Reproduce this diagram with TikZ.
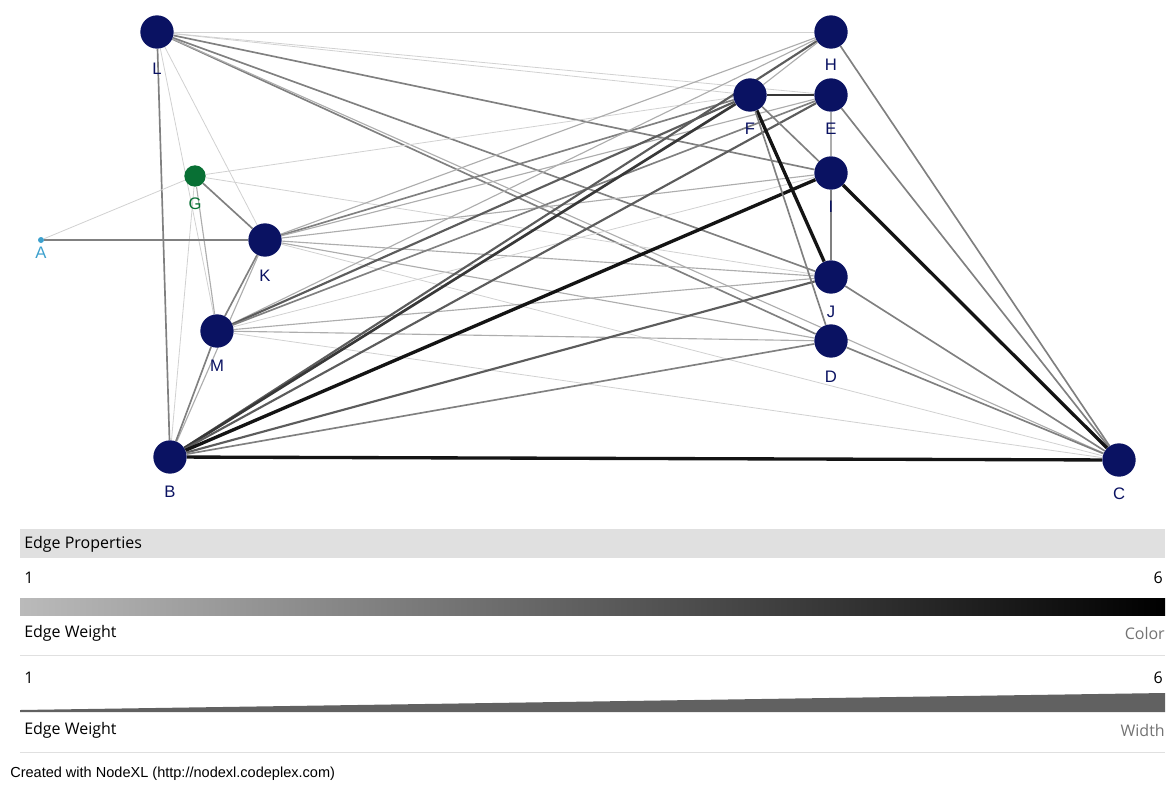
\documentclass[tikz,border=0pt]{standalone}
\usepackage{fontspec}
\setmainfont{Liberation Sans}
\newfontfamily\uifont{Open Sans}
\pgfdeclarelayer{background}
\pgfsetlayers{background,main}
\definecolor{navy}{RGB}{10,18,98}
\definecolor{gnode}{RGB}{8,112,52}
\definecolor{anode}{RGB}{60,160,205}
\tikzset{
  vtx/.style={circle,fill=navy,inner sep=0pt,minimum size=25pt},
  vlab/.style={text=navy,font=\fontsize{12.5}{14}\selectfont,inner sep=0pt},
  w1/.style={draw=black!18,line width=0.6pt},
  w2/.style={draw=black!32,line width=0.85pt},
  w3/.style={draw=black!50,line width=1.25pt},
  w4/.style={draw=black!64,line width=1.6pt},
  w5/.style={draw=black!78,line width=2pt},
  w6/.style={draw=black!92,line width=2.5pt},
  leg/.style={font=\uifont\fontsize{12}{14}\selectfont,inner sep=0pt},
}
\begin{document}
\begin{tikzpicture}[x=0.75pt,y=-0.75pt]
\useasboundingbox (0,0) rectangle (1173,785);
% nodes
\node[vtx] (L) at (157,32) {};
\node[vtx] (H) at (831,32) {};
\node[vtx] (F) at (750,95) {};
\node[vtx] (E) at (831,95) {};
\node[vtx] (I) at (831,173) {};
\node[circle,fill=gnode,inner sep=0pt,minimum size=16pt] (G) at (195,176) {};
\node[circle,fill=anode,inner sep=0pt,minimum size=4.5pt] (A) at (41,240) {};
\node[vtx] (K) at (265,240) {};
\node[vtx] (J) at (831,277) {};
\node[vtx] (M) at (217,331) {};
\node[vtx] (D) at (831,341) {};
\node[vtx] (B) at (170,457) {};
\node[vtx] (C) at (1119,460) {};
% labels
\node[vlab] (lL) at (157,69) {L};
\node[vlab] (lH) at (831,65) {H};
\node[vlab] (lF) at (750,129) {F};
\node[vlab] (lE) at (831,129) {E};
\node[vlab] (lI) at (831,207) {I};
\node[vlab,text=gnode] (lG) at (195,204) {G};
\node[vlab,text=anode] (lA) at (41,253) {A};
\node[vlab] (lK) at (265,276) {K};
\node[vlab] (lJ) at (831,312) {J};
\node[vlab] (lM) at (217,366) {M};
\node[vlab] (lD) at (831,377) {D};
\node[vlab] (lB) at (170,492) {B};
\node[vlab] (lC) at (1119,494) {C};
% edges
\begin{pgfonlayer}{background}
\draw[w1] (L) -- (H);
\draw[w1] (L) -- (E);
\draw[w1] (L) -- (F);
\draw[w3] (L) -- (I);
\draw[w3] (L) -- (J);
\draw[w3] (L) -- (D);
\draw[w2] (L) -- (C);
\draw[w3] (L) -- (B);
\draw[w1] (L) -- (M);
\draw[w1] (L) -- (K);
\draw[w1] (G) -- (A);
\draw[w3] (G) -- (K);
\draw[w1] (G) -- (F);
\draw[w1] (G) -- (J);
\draw[w2] (G) -- (M);
\draw[w1] (G) -- (B);
\draw[w3] (A) -- (K);
\draw[w2] (K) -- (H);
\draw[w3] (K) -- (F);
\draw[w2] (K) -- (E);
\draw[w2] (K) -- (I);
\draw[w2] (K) -- (J);
\draw[w2] (K) -- (D);
\draw[w1] (K) -- (C);
\draw[w3] (K) -- (M);
\draw[w2] (K) -- (B);
\draw[w2] (M) -- (H);
\draw[w4] (M) -- (F);
\draw[w3] (M) -- (E);
\draw[w1] (M) -- (I);
\draw[w2] (M) -- (J);
\draw[w2] (M) -- (D);
\draw[w1] (M) -- (C);
\draw[w3] (M) -- (B);
\draw[w6] (B) -- (C);
\draw[w4] (B) -- (H);
\draw[w5] (B) -- (F);
\draw[w4] (B) -- (E);
\draw[w6] (B) -- (I);
\draw[w4] (B) -- (J);
\draw[w3] (B) -- (D);
\draw[w5] (F) -- (E);
\draw[w2] (F) -- (H);
\draw[w3] (F) -- (I);
\draw[w6] (F) -- (J);
\draw[w3] (F) -- (D);
\draw[w2] (E) -- (I);
\draw[w3] (I) -- (J);
\draw[w3] (H) -- (C);
\draw[w3] (E) -- (C);
\draw[w6] (I) -- (C);
\draw[w3] (J) -- (C);
\draw[w3] (D) -- (C);
\end{pgfonlayer}
% legend
\fill[black!12] (20,529) rectangle (1165,558);
\node[leg,anchor=west] (lp) at (24,544) {Edge Properties};
\node[leg,anchor=west] (c1) at (24,578) {1};
\node[leg,anchor=east] (c6) at (1163,578) {6};
\shade[left color=black!27,right color=black] (20,598) rectangle (1165,615);
\node[leg,anchor=west] (cw) at (24,633) {Edge Weight};
\node[leg,anchor=east,text=black!55] (cc) at (1165,633) {Color};
\draw[black!12,line width=0.75pt] (20,655) -- (1165,655);
\node[leg,anchor=west] (d1) at (24,678) {1};
\node[leg,anchor=east] (d6) at (1163,678) {6};
\fill[black!62] (20,710) -- (1165,693) -- (1165,712) -- (20,712) -- cycle;
\node[leg,anchor=west] (dw) at (24,730) {Edge Weight};
\node[leg,anchor=east,text=black!55] (dd) at (1165,730) {Width};
\draw[black!12,line width=0.75pt] (20,752) -- (1165,752);
\node[anchor=west,inner sep=0pt,font=\fontsize{10.9}{12}\selectfont] (cr) at (10,774) {Created with NodeXL (http://nodexl.codeplex.com)};
\end{tikzpicture}
\end{document}
